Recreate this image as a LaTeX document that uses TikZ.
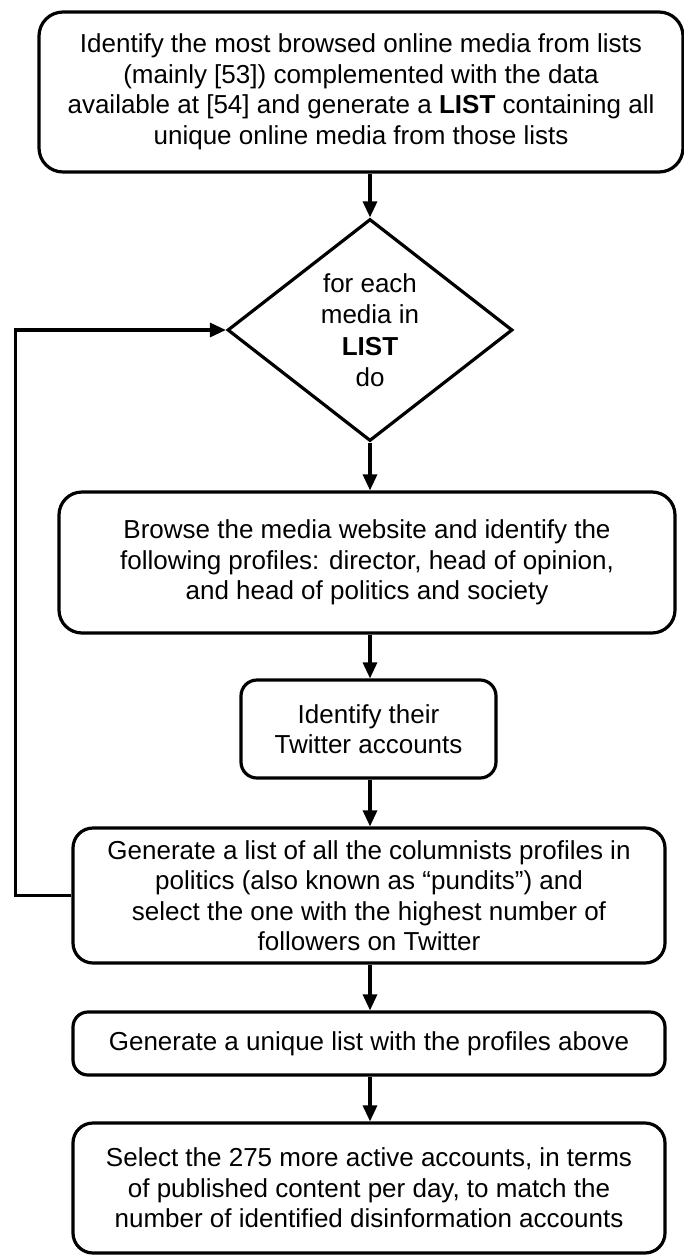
\documentclass[tikz,border=0pt]{standalone}
\usepackage{fontspec}
\setmainfont{Liberation Sans}
\usetikzlibrary{shapes.geometric,arrows.meta}
\begin{document}
\begin{tikzpicture}[x=1pt,y=-1pt,
  box/.style={draw,line width=3.2pt,align=center,inner sep=0pt,
    font=\fontsize{26}{30.5}\selectfont},
  arr/.style={line width=3.2pt,-{Triangle[length=16pt,width=14pt]}}]
\useasboundingbox (0,0) rectangle (684,1255);

\node[box,rounded corners=24pt,minimum width=644pt,minimum height=160pt] (top) at (361,92)
  {Identify the most browsed online media from lists\\(mainly [53]) complemented with the data\\available at [54] and generate a \textbf{LIST} containing all\\unique online media from those lists};

\node[box,diamond,minimum width=285pt,minimum height=222pt,
  font=\fontsize{26}{31.5}\selectfont] (d) at (370,330)
  {for each\\media in\\\textbf{LIST}\\do};

\node[box,rounded corners=23pt,minimum width=616pt,minimum height=141pt] (b2) at (367,562.5)
  {Browse the media website and identify the\\following profiles: director, head of opinion,\\and head of politics and society};

\node[box,rounded corners=16pt,minimum width=255pt,minimum height=98pt] (b3) at (368.5,729)
  {Identify their\\Twitter accounts};

\node[box,rounded corners=20pt,minimum width=592pt,minimum height=135pt] (b4) at (369,895.5)
  {Generate a list of all the columnists profiles in\\politics (also known as “pundits”) and\\select the one with the highest number of\\followers on Twitter};

\node[box,rounded corners=15pt,minimum width=592pt,minimum height=63pt] (b5) at (369,1043.5)
  {Generate a unique list with the profiles above};

\node[box,rounded corners=20pt,minimum width=592pt,minimum height=130pt] (b6) at (369,1188)
  {Select the 275 more active accounts, in terms\\of published content per day, to match the\\number of identified disinformation accounts};

\draw[arr] (d.north |- top.south) -- (d.north);
\draw[arr] (d.south) -- (d.south |- b2.north);
\draw[arr] (d.south |- b2.south) -- (d.south |- b3.north);
\draw[arr] (d.south |- b3.south) -- (d.south |- b4.north);
\draw[arr] (d.south |- b4.south) -- (d.south |- b5.north);
\draw[arr] (d.south |- b5.south) -- (d.south |- b6.north);
\draw[arr] (b4.west) -- ++(-56,0) |- (d.west);
\end{tikzpicture}
\end{document}
